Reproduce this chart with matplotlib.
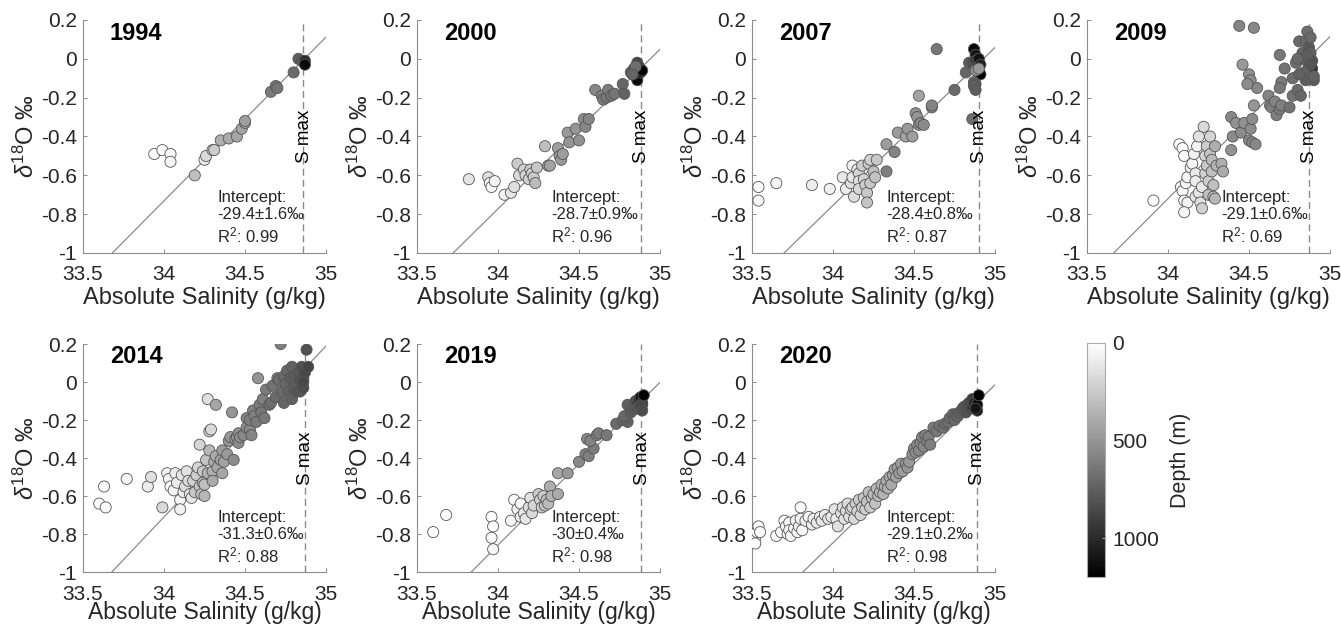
import matplotlib
matplotlib.use("Agg")
import matplotlib.pyplot as plt
import numpy as np

plt.rcParams['font.family'] = ['Liberation Sans', 'DejaVu Sans']
plt.rcParams['mathtext.fontset'] = 'custom'
plt.rcParams['mathtext.rm'] = 'Liberation Sans'
plt.rcParams['mathtext.it'] = 'Liberation Sans:italic'
plt.rcParams['mathtext.default'] = 'regular'

years = ["1994", "2000", "2007", "2009", "2014", "2019", "2020"]
intercepts = [-29.4, -28.7, -28.4, -29.1, -31.3, -30.0, -29.1]
slopes = [0.8432, 0.8214, 0.8131, 0.8347, 0.8997, 0.8571, 0.8310]
intercept_labels = ["-29.4±1.6‰", "-28.7±0.9‰", "-28.4±0.8‰", "-29.1±0.6‰",
                    "-31.3±0.6‰", "-30±0.4‰", "-29.1±0.2‰"]
r2_labels = ["0.99", "0.96", "0.87", "0.69", "0.88", "0.98", "0.98"]
smax = [34.86, 34.88, 34.90, 34.87, 34.87, 34.885, 34.89]

# 1994
sal_1994 = [33.94, 33.99, 34.04, 34.04, 34.19, 34.25, 34.26, 34.30, 34.31, 34.35, 34.40,
            34.45, 34.48, 34.50, 34.50, 34.66, 34.69, 34.70, 34.80, 34.83, 34.85, 34.87, 34.87]
d18o_1994 = [-0.49, -0.47, -0.49, -0.53, -0.60, -0.52, -0.50, -0.47, -0.47, -0.42, -0.41,
             -0.40, -0.36, -0.33, -0.32, -0.17, -0.14, -0.15, -0.07, 0.00, -0.01, -0.01, -0.03]
depth_1994 = [10, 20, 30, 40, 300, 100, 180, 220, 240, 380, 400,
              420, 430, 440, 450, 620, 640, 650, 700, 760, 780, 1000, 1150]

# 2000
sal_2000 = [33.82, 33.94, 33.95, 33.96, 33.98, 34.04, 34.08, 34.10, 34.12, 34.13, 34.16,
            34.17, 34.19, 34.20, 34.21, 34.22, 34.23, 34.24, 34.29, 34.31, 34.32, 34.37,
            34.38, 34.39, 34.40, 34.43, 34.44, 34.48, 34.50, 34.53, 34.54, 34.56, 34.60,
            34.64, 34.65, 34.67, 34.68, 34.70, 34.72, 34.77, 34.78, 34.82, 34.84, 34.86,
            34.87, 34.85, 34.86, 34.88, 34.89, 34.85, 34.83]
d18o_2000 = [-0.62, -0.61, -0.64, -0.66, -0.63, -0.70, -0.69, -0.66, -0.54, -0.60, -0.57,
             -0.60, -0.62, -0.57, -0.59, -0.61, -0.64, -0.56, -0.45, -0.55, -0.55, -0.46,
             -0.50, -0.52, -0.49, -0.38, -0.43, -0.36, -0.42, -0.31, -0.35, -0.31, -0.16,
             -0.19, -0.21, -0.20, -0.16, -0.19, -0.18, -0.13, -0.18, -0.07, -0.05, -0.02,
             -0.04, -0.09, -0.11, -0.07, -0.06, -0.04, -0.08]
depth_2000 = [130, 160, 40, 20, 60, 70, 120, 150, 250, 180, 220,
              200, 230, 260, 210, 250, 320, 270, 300, 420, 440, 450,
              470, 480, 460, 480, 500, 500, 520, 540, 560, 570, 560,
              600, 620, 640, 610, 660, 650, 720, 740, 760, 820, 880,
              900, 1000, 1150, 1100, 1180, 680, 720]

# 2007
sal_2007 = [33.54, 33.54, 33.65, 33.87, 33.98, 34.06, 34.08, 34.11, 34.12, 34.12, 34.13,
            34.15, 34.16, 34.16, 34.16, 34.18, 34.19, 34.20, 34.21, 34.21, 34.22, 34.23,
            34.23, 34.25, 34.26, 34.27, 34.33, 34.33, 34.38, 34.40, 34.45, 34.46, 34.49,
            34.51, 34.52, 34.53, 34.54, 34.56, 34.53, 34.61, 34.61, 34.64, 34.75, 34.82,
            34.84, 34.86, 34.87, 34.88, 34.88, 34.89, 34.89, 34.90, 34.90, 34.91, 34.91,
            34.87, 34.88, 34.87, 34.88, 34.86, 34.88, 34.90]
d18o_2007 = [-0.66, -0.73, -0.64, -0.65, -0.67, -0.61, -0.67, -0.64, -0.55, -0.61, -0.71,
             -0.57, -0.59, -0.63, -0.67, -0.55, -0.62, -0.65, -0.69, -0.74, -0.54, -0.52,
             -0.64, -0.58, -0.61, -0.52, -0.58, -0.44, -0.48, -0.38, -0.40, -0.36, -0.40,
             -0.28, -0.30, -0.34, -0.33, -0.34, -0.19, -0.25, -0.24, 0.05, -0.16, -0.07,
             -0.02, -0.02, 0.05, 0.02, -0.01, -0.02, -0.04, -0.06, 0.00, -0.03, -0.08,
             -0.12, -0.13, -0.14, -0.16, -0.31, -0.06, -0.05]
depth_2007 = [20, 30, 60, 80, 70, 110, 90, 150, 50, 120, 160,
              100, 200, 140, 180, 240, 210, 230, 260, 280, 250, 220,
              270, 300, 290, 260, 600, 460, 580, 470, 440, 480, 460,
              520, 500, 540, 560, 550, 430, 560, 580, 640, 700, 720,
              760, 820, 1150, 1100, 950, 1000, 900, 980, 1120, 1050, 1180,
              720, 760, 740, 760, 680, 540, 480]

# 2009
sal_2009 = [33.91, 34.07, 34.09, 34.10, 34.08, 34.09, 34.11, 34.10, 34.12, 34.10, 34.12,
            34.14, 34.15, 34.16, 34.17, 34.17, 34.17, 34.18, 34.19, 34.19, 34.20, 34.21,
            34.21, 34.22, 34.23, 34.23, 34.24, 34.24, 34.25, 34.25, 34.26, 34.26, 34.27,
            34.27, 34.28, 34.28, 34.29, 34.29, 34.30, 34.33, 34.34, 34.39, 34.42, 34.39,
            34.40, 34.45, 34.47, 34.50, 34.51, 34.52, 34.54, 34.52, 34.53, 34.50, 34.51,
            34.55, 34.49, 34.46, 34.44, 34.53, 34.62, 34.63, 34.64, 34.66, 34.67, 34.69,
            34.70, 34.69, 34.70, 34.69, 34.72, 34.75, 34.77, 34.77, 34.80, 34.82, 34.79,
            34.81, 34.83, 34.84, 34.85, 34.86, 34.87, 34.87, 34.87, 34.88, 34.89, 34.89,
            34.90, 34.88, 34.84, 34.85, 34.81, 34.80, 34.86, 34.88, 34.90]
d18o_2009 = [-0.73, -0.44, -0.46, -0.50, -0.66, -0.68, -0.64, -0.73, -0.74, -0.79, -0.61,
             -0.56, -0.54, -0.49, -0.59, -0.63, -0.71, -0.45, -0.40, -0.69, -0.74, -0.77,
             -0.66, -0.35, -0.50, -0.59, -0.45, -0.55, -0.63, -0.70, -0.40, -0.49, -0.58,
             -0.52, -0.65, -0.71, -0.72, -0.45, -0.55, -0.54, -0.58, -0.30, -0.33, -0.47,
             -0.40, -0.38, -0.33, -0.42, -0.36, -0.43, -0.44, -0.31, -0.24, -0.08, -0.11,
             -0.15, -0.13, -0.03, 0.17, 0.16, -0.19, -0.24, -0.25, -0.22, -0.29, -0.26,
             -0.24, 0.02, -0.12, -0.15, -0.05, -0.25, -0.10, -0.19, -0.16, -0.19, -0.02,
             0.09, 0.03, 0.00, 0.09, 0.14, 0.06, -0.04, -0.07, 0.03, -0.01, -0.05,
             -0.11, 0.11, -0.07, -0.11, -0.08, 0.00, 0.02, -0.03, -0.09]
depth_2009 = [10, 10, 20, 30, 20, 30, 40, 40, 60, 50, 50,
              80, 60, 70, 100, 90, 120, 60, 140, 130, 150, 220,
              110, 180, 200, 220, 240, 260, 240, 300, 200, 280, 300,
              320, 300, 320, 340, 380, 360, 380, 400, 560, 520, 520,
              540, 540, 520, 560, 540, 580, 560, 540, 500, 520, 540,
              560, 540, 480, 580, 560, 580, 600, 600, 580, 600, 620,
              600, 640, 620, 640, 660, 660, 680, 660, 700, 720, 680,
              700, 720, 740, 700, 680, 780, 800, 760, 740, 820, 980,
              780, 700, 720, 760, 740, 700, 760, 800, 740]

# 2014
sal_2014 = [33.60, 33.63, 33.64, 33.77, 33.90, 33.92, 33.99, 34.02, 34.03, 34.04, 34.06,
            34.07, 34.08, 34.10, 34.10, 34.11, 34.12, 34.13, 34.14, 34.15, 34.16, 34.17,
            34.18, 34.19, 34.20, 34.21, 34.22, 34.22, 34.23, 34.24, 34.24, 34.25, 34.25,
            34.26, 34.27, 34.28, 34.29, 34.27, 34.28, 34.30, 34.30, 34.31, 34.32, 34.32,
            34.33, 34.35, 34.36, 34.36, 34.37, 34.39, 34.40, 34.41, 34.42, 34.43, 34.44,
            34.45, 34.46, 34.46, 34.47, 34.49, 34.51, 34.51, 34.53, 34.53, 34.54, 34.55,
            34.56, 34.57, 34.58, 34.59, 34.60, 34.61, 34.62, 34.63, 34.65, 34.66, 34.67,
            34.69, 34.70, 34.71, 34.72, 34.73, 34.74, 34.74, 34.75, 34.76, 34.77, 34.78,
            34.79, 34.79, 34.80, 34.81, 34.82, 34.83, 34.84, 34.84, 34.85, 34.86, 34.86,
            34.87, 34.88, 34.89, 34.86]
d18o_2014 = [-0.64, -0.55, -0.66, -0.51, -0.55, -0.50, -0.66, -0.48, -0.51, -0.55, -0.57,
             -0.48, -0.53, -0.62, -0.67, -0.49, -0.58, -0.55, -0.47, -0.52, -0.59, -0.61,
             -0.52, -0.58, -0.49, -0.45, -0.55, -0.33, -0.59, -0.53, -0.47, -0.60, -0.54,
             -0.41, -0.09, -0.26, -0.25, -0.48, -0.36, -0.47, -0.52, -0.42, -0.12, -0.39,
             -0.45, -0.41, -0.48, -0.36, -0.42, -0.38, -0.31, -0.29, -0.16, -0.41, -0.30,
             -0.29, -0.27, -0.32, -0.29, -0.28, -0.19, -0.24, -0.25, -0.20, -0.28, -0.15,
             -0.18, -0.21, 0.02, -0.12, -0.16, -0.09, -0.19, -0.04, -0.12, -0.11, -0.02,
             -0.08, 0.02, 0.01, 0.20, -0.05, 0.03, -0.11, -0.01, 0.06, -0.05, 0.02,
             -0.09, 0.08, -0.03, 0.03, -0.05, 0.05, 0.01, -0.05, 0.08, 0.02, -0.03,
             0.05, 0.17, 0.08, 0.00]
depth_2014 = [10, 20, 30, 40, 90, 150, 180, 40, 60, 20, 50,
              80, 100, 40, 70, 120, 90, 160, 140, 180, 130, 110,
              220, 260, 240, 200, 280, 200, 300, 320, 260, 340, 300,
              280, 150, 200, 180, 360, 340, 380, 400, 380, 420, 400,
              420, 440, 420, 460, 440, 480, 500, 480, 500, 540, 480,
              500, 520, 540, 520, 560, 580, 540, 560, 600, 580, 600,
              580, 620, 500, 620, 640, 600, 640, 620, 660, 680, 660,
              700, 640, 680, 600, 700, 700, 720, 720, 720, 740, 760,
              740, 740, 760, 760, 800, 780, 820, 800, 820, 840, 840,
              860, 820, 880, 860]

# 2019
sal_2019 = [33.60, 33.68, 33.96, 33.97, 33.96, 33.97, 34.08, 34.10, 34.12, 34.14, 34.14,
            34.16, 34.17, 34.19, 34.20, 34.21, 34.22, 34.25, 34.26, 34.27, 34.28, 34.29,
            34.30, 34.31, 34.32, 34.33, 34.37, 34.37, 34.43, 34.50, 34.54, 34.56, 34.59,
            34.55, 34.57, 34.61, 34.62, 34.67, 34.73, 34.77, 34.80, 34.78, 34.80, 34.82,
            34.84, 34.85, 34.86, 34.86, 34.87, 34.88, 34.89, 34.89, 34.90, 34.88, 34.89]
d18o_2019 = [-0.79, -0.70, -0.71, -0.76, -0.82, -0.88, -0.73, -0.62, -0.67, -0.64, -0.71,
             -0.69, -0.72, -0.66, -0.61, -0.69, -0.65, -0.59, -0.62, -0.66, -0.60, -0.65,
             -0.62, -0.64, -0.55, -0.60, -0.59, -0.48, -0.48, -0.42, -0.38, -0.39, -0.35,
             -0.30, -0.31, -0.28, -0.27, -0.28, -0.22, -0.20, -0.21, -0.18, -0.12, -0.16,
             -0.14, -0.10, -0.11, -0.14, -0.09, -0.08, -0.11, -0.12, -0.07, -0.13, -0.15]
depth_2019 = [10, 20, 10, 20, 30, 40, 30, 20, 60, 40, 80,
              100, 120, 160, 140, 180, 200, 240, 220, 260, 250, 280,
              300, 320, 380, 360, 400, 420, 480, 560, 600, 600, 620,
              560, 580, 600, 620, 640, 700, 720, 740, 720, 760, 760,
              780, 860, 900, 800, 1000, 1100, 1150, 900, 1180, 880, 840]

# 2020
sal_2020 = [33.52, 33.52, 33.53, 33.54, 33.55, 33.65, 33.68, 33.70, 33.71, 33.72, 33.73,
            33.73, 33.74, 33.76, 33.77, 33.78, 33.79, 33.80, 33.80, 33.81, 33.83, 33.85,
            33.87, 33.88, 33.90, 33.92, 33.93, 33.95, 33.97, 33.99, 34.01, 34.02, 34.03,
            34.05, 34.06, 34.07, 34.08, 34.09, 34.10, 34.11, 34.12, 34.13, 34.14, 34.15,
            34.16, 34.17, 34.18, 34.19, 34.20, 34.21, 34.22, 34.23, 34.24, 34.25, 34.26,
            34.27, 34.28, 34.29, 34.30, 34.31, 34.32, 34.33, 34.34, 34.35, 34.36, 34.37,
            34.38, 34.39, 34.40, 34.41, 34.42, 34.43, 34.45, 34.46, 34.47, 34.49, 34.50,
            34.51, 34.52, 34.53, 34.54, 34.55, 34.56, 34.57, 34.58, 34.59, 34.60, 34.62,
            34.64, 34.66, 34.68, 34.69, 34.71, 34.72, 34.74, 34.75, 34.76, 34.77, 34.78,
            34.80, 34.81, 34.82, 34.83, 34.84, 34.85, 34.86, 34.86, 34.87, 34.88, 34.89,
            34.89, 34.90, 34.88]
d18o_2020 = [-0.82, -0.85, -0.79, -0.76, -0.79, -0.81, -0.79, -0.73, -0.76, -0.80, -0.74,
             -0.78, -0.81, -0.77, -0.73, -0.79, -0.76, -0.66, -0.72, -0.78, -0.73, -0.71,
             -0.75, -0.72, -0.74, -0.71, -0.73, -0.70, -0.72, -0.71, -0.67, -0.72, -0.76,
             -0.69, -0.66, -0.72, -0.68, -0.64, -0.71, -0.67, -0.66, -0.72, -0.64, -0.68,
             -0.62, -0.70, -0.66, -0.61, -0.67, -0.63, -0.58, -0.66, -0.61, -0.59, -0.64,
             -0.56, -0.60, -0.58, -0.54, -0.59, -0.55, -0.52, -0.56, -0.50, -0.54, -0.49,
             -0.46, -0.50, -0.45, -0.48, -0.43, -0.47, -0.43, -0.45, -0.42, -0.38, -0.35,
             -0.37, -0.33, -0.36, -0.32, -0.29, -0.34, -0.28, -0.31, -0.29, -0.33, -0.24,
             -0.26, -0.23, -0.24, -0.22, -0.21, -0.19, -0.17, -0.20, -0.17, -0.18, -0.16,
             -0.14, -0.13, -0.16, -0.12, -0.11, -0.14, -0.09, -0.13, -0.11, -0.14, -0.15,
             -0.12, -0.07, -0.14]
depth_2020 = [10, 20, 10, 20, 30, 10, 20, 10, 30, 20, 40,
              30, 20, 40, 60, 30, 50, 20, 60, 40, 80, 60,
              90, 70, 100, 80, 110, 90, 120, 110, 130, 100, 150,
              140, 160, 130, 180, 170, 150, 200, 190, 180, 230, 210,
              250, 200, 240, 270, 230, 290, 300, 260, 310, 330, 290,
              340, 320, 350, 370, 360, 380, 390, 370, 410, 400, 420,
              440, 430, 450, 460, 470, 460, 490, 500, 480, 520, 540,
              530, 550, 560, 570, 580, 560, 600, 590, 610, 600, 630,
              640, 650, 660, 680, 680, 700, 720, 710, 740, 730, 760,
              780, 800, 820, 840, 860, 880, 920, 960, 1000, 1080, 1150,
              1180, 1200, 1100]

sal_all = [sal_1994, sal_2000, sal_2007, sal_2009, sal_2014, sal_2019, sal_2020]
d18o_all = [d18o_1994, d18o_2000, d18o_2007, d18o_2009, d18o_2014, d18o_2019, d18o_2020]
depth_all = [depth_1994, depth_2000, depth_2007, depth_2009, depth_2014, depth_2019, depth_2020]

fig = plt.figure(figsize=(13.41, 6.30), dpi=100)

W, H = 1341.0, 630.0
lefts = [83, 417, 752, 1087, 83, 417, 752]
tops = [20, 20, 20, 20, 344, 344, 344]
bottoms = [253, 253, 253, 253, 572, 572, 572]
aw = 243

text_col = '#262626'
spine_col = '#8c8c8c'

sc = None
for i, yr in enumerate(years):
    ah = bottoms[i] - tops[i]
    ax = fig.add_axes([lefts[i] / W, 1 - bottoms[i] / H, aw / W, ah / H])
    x = np.array(sal_all[i])
    y = np.array(d18o_all[i])
    z = np.array(depth_all[i])
    bottom_row = i >= 4

    # regression line + salinity max marker
    xl = np.linspace(33.5, 35.0, 50)
    ax.plot(xl, intercepts[i] + slopes[i] * xl, color='#8a8a8a', lw=0.9, zorder=1)
    ax.axvline(smax[i], color='#8a8a8a', lw=1.0, ls=(0, (5, 3)), zorder=1)

    sc = ax.scatter(x, y, c=z, cmap='gray_r', vmin=0, vmax=1200, s=64,
                    edgecolors='#555555', linewidths=0.6, zorder=3)

    ax.set_xlim(33.5, 35.0)
    ax.set_ylim(-1.0, 0.2)
    ax.set_xticks([33.5, 34, 34.5, 35])
    ax.set_xticklabels(['33.5', '34', '34.5', '35'])
    ax.set_yticks([-1, -0.8, -0.6, -0.4, -0.2, 0, 0.2])
    ax.set_yticklabels(['-1', '-0.8', '-0.6', '-0.4', '-0.2', '0', '0.2'])
    for s in ['top', 'right']:
        ax.spines[s].set_visible(False)
    for s in ['left', 'bottom']:
        ax.spines[s].set_color(spine_col)
        ax.spines[s].set_linewidth(0.8)
    ax.tick_params(direction='in', length=3, width=0.7, color=spine_col,
                   labelsize=15, labelcolor=text_col)
    # bottom row sits close to the figure edge, so tighten it a little
    ax.tick_params(axis='x', pad=9)
    ax.tick_params(axis='y', pad=4.5)

    ax.set_xlabel('Absolute Salinity (g/kg)', fontsize=16.5 if bottom_row else 17,
                  color=text_col, labelpad=-1.5 if bottom_row else 2)
    ax.set_ylabel(r'$\mathit{\delta}^{18}$O ‰', fontsize=17, color=text_col, labelpad=1)

    ax.text(0.11, 0.944, yr, transform=ax.transAxes, fontsize=17, fontweight='bold',
            color='black', va='center', ha='left')
    ax.text(0.553, 0.272, 'Intercept:\n' + intercept_labels[i] + '\nR$^2$: ' + r2_labels[i],
            transform=ax.transAxes, fontsize=12, color=text_col, va='top', ha='left',
            linespacing=1.2)
    ax.text(smax[i] + 0.005, -0.40, 'S max', rotation=90, fontsize=13.5, color='black',
            va='center', ha='center', zorder=4)

cax = fig.add_axes([1087 / W, 1 - 577 / H, 18 / W, 234 / H])
cb = fig.colorbar(sc, cax=cax)
cb.ax.invert_yaxis()
cb.set_ticks([0, 500, 1000])
cb.ax.tick_params(direction='in', length=2, color='#999999', labelsize=15,
                  labelcolor=text_col, pad=5)
cb.outline.set_edgecolor('#aaaaaa')
cb.outline.set_linewidth(0.8)
cb.set_label('Depth (m)', fontsize=15.5, color=text_col, labelpad=8)

fig.savefig('out.png', dpi=100)
